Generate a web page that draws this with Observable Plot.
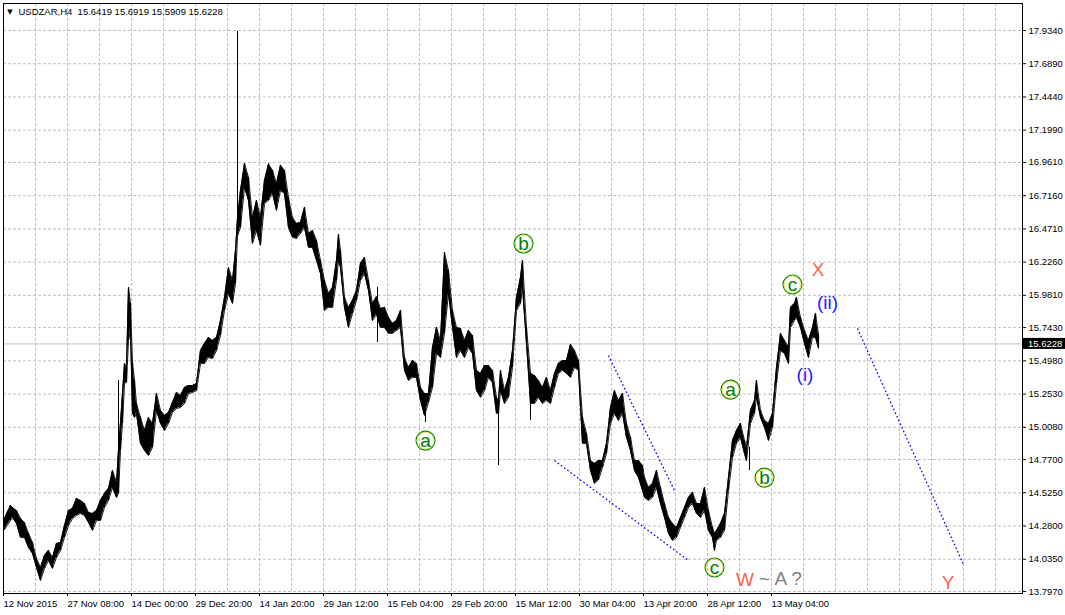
<!DOCTYPE html>
<html><head><meta charset="utf-8">
<script src="https://cdn.jsdelivr.net/npm/d3@7"></script>
<script src="https://cdn.jsdelivr.net/npm/@observablehq/plot@0.6"></script>
<style>html,body{margin:0;padding:0;background:#fff;overflow:hidden}</style>
</head><body><div id="chart"></div>
<script>
// ---- data (H4 bars sampled: bar number from 12 Nov 2015, high, low) ----
const barIndex = [
  1,7,9,13,17,21,25,29,33,37,
  41,45,49,53,57,61,65,69,73,77,
  81,85,89,93,97,101,105,109,113,115,
  117,119,121,123,125,127,129,131,133,137,
  141,145,149,153,157,161,165,169,173,177,
  181,185,189,193,197,201,205,209,213,217,
  221,225,229,232,234,237,241,245,249,253,
  257,261,265,269,273,277,281,285,289,293,
  297,301,305,309,313,317,321,325,329,333,
  335,337,341,345,349,353,357,361,365,369,
  373,377,381,385,389,393,397,401,405,409,
  413,417,421,425,429,433,437,441,445,449,
  453,457,461,465,469,473,477,481,485,489,
  493,495,497,501,505,509,513,517,519,523,
  527,531,535,539,543,547,551,555,559,563,
  567,571,575,579,583,587,591,595,599,603,
  607,611,615,619,623,627,631,635,639,641,
  645,649,653,657,661,665,669,673,677,681,
  685,689,693,697,701,705,709,711,713,717,
  721,725,729,733,737,741,743,747,751,753,
  757,761,765,769,773,777,781,785,787,791,
  793,797,801,805,809,812,815
];
const barHigh = [
  14.335,14.431,14.416,14.394,14.335,14.305,14.225,14.158,14.040,13.974,
  14.062,14.099,14.047,14.151,14.158,14.283,14.394,14.409,14.483,14.468,
  14.446,14.379,14.372,14.394,14.468,14.520,14.556,14.689,14.601,14.837,
  15.043,15.257,15.478,15.449,16.039,15.921,15.485,15.353,15.183,15.080,
  14.984,15.080,15.036,15.257,15.132,15.095,15.117,15.191,15.264,15.242,
  15.301,15.316,15.316,15.331,15.574,15.626,15.670,15.648,15.670,15.795,
  15.965,16.186,16.090,16.312,16.550,16.754,16.953,16.850,16.555,16.680,
  16.555,16.828,16.950,16.902,16.806,16.940,16.902,16.702,16.555,16.511,
  16.518,16.629,16.437,16.459,16.385,16.238,16.090,15.995,16.039,16.238,
  16.430,16.312,15.965,15.892,15.943,16.017,16.216,16.260,16.090,15.921,
  15.970,15.884,15.892,15.818,15.774,15.795,15.869,15.522,15.449,15.500,
  15.478,15.301,15.257,15.257,15.596,15.744,15.648,16.297,16.164,15.869,
  15.744,15.736,15.648,15.722,15.685,15.427,15.405,15.463,15.463,15.427,
  15.228,15.205,15.427,15.279,15.375,15.574,15.965,16.113,16.238,15.744,
  15.405,15.390,15.353,15.301,15.375,15.279,15.405,15.478,15.500,15.500,
  15.620,15.574,15.500,15.080,14.962,14.763,14.741,14.763,14.763,14.888,
  15.154,15.279,15.205,15.257,15.036,14.932,14.763,14.763,14.726,14.637,
  14.564,14.593,14.689,14.564,14.446,14.342,14.298,14.269,14.342,14.416,
  14.490,14.527,14.446,14.446,14.564,14.394,14.269,14.225,14.247,14.298,
  14.372,14.637,14.910,14.984,15.036,14.910,14.859,15.132,15.205,15.353,
  15.132,15.058,15.036,15.110,15.449,15.700,15.648,15.600,15.892,15.921,
  15.965,15.818,15.722,15.648,15.744,15.847,15.692
];
const barLow = [
  14.254,14.320,14.342,14.298,14.195,14.195,14.121,14.077,13.974,13.878,
  13.967,14.025,13.967,14.047,14.099,14.195,14.283,14.335,14.357,14.372,
  14.357,14.305,14.247,14.320,14.320,14.416,14.468,14.564,14.490,14.520,
  14.837,15.036,15.331,15.338,15.648,15.722,15.110,15.080,15.110,14.888,
  14.837,14.800,14.859,15.132,15.036,14.984,15.036,15.117,15.146,15.154,
  15.183,15.257,15.264,15.279,15.478,15.478,15.522,15.515,15.574,15.685,
  15.869,15.995,15.921,16.068,16.420,16.481,16.777,16.680,16.363,16.459,
  16.350,16.658,16.680,16.732,16.607,16.754,16.732,16.481,16.408,16.400,
  16.437,16.481,16.334,16.334,16.238,16.142,15.869,15.892,15.892,16.090,
  16.238,16.186,15.892,15.744,15.847,15.943,16.090,16.142,16.017,15.795,
  15.840,15.744,15.744,15.700,15.700,15.722,15.744,15.427,15.353,15.375,
  15.375,15.205,15.095,15.191,15.301,15.552,15.522,15.700,15.995,15.744,
  15.522,15.574,15.522,15.596,15.552,15.279,15.228,15.279,15.375,15.338,
  15.110,15.110,15.279,15.183,15.228,15.449,15.869,15.921,16.039,15.626,
  15.183,15.183,15.228,15.183,15.205,15.183,15.301,15.405,15.427,15.405,
  15.375,15.449,15.427,14.888,14.888,14.689,14.593,14.620,14.711,14.814,
  15.036,15.110,15.058,15.110,14.932,14.837,14.689,14.637,14.542,14.490,
  14.468,14.490,14.564,14.446,14.342,14.225,14.173,14.195,14.269,14.342,
  14.416,14.446,14.372,14.342,14.394,14.247,14.195,14.099,14.173,14.195,
  14.247,14.542,14.785,14.888,14.932,14.814,14.760,15.036,15.110,15.228,
  15.080,15.006,14.910,15.006,15.331,15.574,15.552,15.478,15.744,15.795,
  15.818,15.744,15.626,15.522,15.670,15.670,15.591
];
// long single-bar wicks
const wickIndex = [115, 234, 374, 422, 495, 527, 746];
const wickHigh  = [15.353, 17.927, 16.040, 15.200, 15.205, 15.405, 14.860];
const wickLow   = [14.520, 16.420, 15.633, 15.043, 14.726, 15.058, 14.689];

const lastClose = 15.6228;
const titleText = "USDZAR,H4\u00a0\u00a015.6419 15.6919 15.5909 15.6228";

// axes
const yTickValues = [17.934,17.689,17.444,17.199,16.961,16.716,16.471,16.226,15.981,15.743,15.498,15.253,15.008,14.770,14.525,14.280,14.035,13.797];
const xTickIndex  = [0,64,128,192,256,320,384,448,512,576,640,704,768];
const xTickLabels = ["12 Nov 2015","27 Nov 08:00","14 Dec 00:00","29 Dec 20:00","14 Jan 20:00","29 Jan 12:00","15 Feb 04:00","29 Feb 20:00","15 Mar 12:00","30 Mar 04:00","13 Apr 20:00","28 Apr 12:00","13 May 04:00"];

// blue dotted trend lines
const trendStartIdx   = [605, 551, 854];
const trendStartPrice = [15.537, 14.763, 15.736];
const trendEndIdx     = [671, 685, 960];
const trendEndPrice   = [14.542, 14.025, 13.996];

// circled wave labels
const circleIdx    = [422, 520, 711, 727, 761, 789];
const circlePrice  = [14.910, 16.363, 13.974, 15.286, 14.637, 16.061];
const circleLetter = ["a", "b", "c", "a", "b", "c"];

// other wave labels
const labelText  = ["X", "(ii)", "(i)", "W", "~ A ?", "Y"];
const labelIdx   = [814.5, 824, 801.5, 741.5, 777, 944.5];
const labelPrice = [16.170, 15.928, 15.397, 13.885, 13.893, 13.863];
const labelColor = ["#ff6347", "#1f1fff", "#1f1fff", "#ff6347", "#808080", "#ff6347"];

// ---- build tables ----
const bars = barIndex.map((i, k) => ({i, hi: barHigh[k], lo: barLow[k]}));
const wicks = wickIndex.map((i, k) => ({i, hi: wickHigh[k], lo: wickLow[k]}));
const trends = trendStartIdx.map((x, k) => ({x1: x, y1: trendStartPrice[k], x2: trendEndIdx[k], y2: trendEndPrice[k]}));
const circles = circleIdx.map((x, k) => ({x, y: circlePrice[k], t: circleLetter[k]}));
const labels = labelText.map((t, k) => ({t, x: labelIdx[k], y: labelPrice[k], c: labelColor[k]}));
const gridIdx = d3.range(32, 1000, 32);

const FONT = "'Liberation Sans', Arial, sans-serif";

const chart = Plot.plot({
  width: 1065, height: 615,
  marginLeft: 3, marginRight: 43, marginTop: 3, marginBottom: 22,
  style: {background: "white", fontFamily: FONT, fontSize: "9.5px", color: "black", overflow: "visible"},
  x: {domain: [0, 1019], axis: null},
  y: {domain: [13.7823, 18.1331], axis: null},
  marks: [
    Plot.ruleX(gridIdx, {stroke: "#c0c0c0", strokeDasharray: "3,2"}),
    Plot.ruleY(yTickValues, {stroke: "#c0c0c0", strokeDasharray: "3,2"}),
    Plot.ruleY([lastClose], {stroke: "#c0c0c0"}),
    Plot.areaY(bars, {x: "i", y1: "lo", y2: "hi", fill: "black"}),
    Plot.line(bars, {x: "i", y: "hi", stroke: "black", strokeWidth: 0.9}),
    Plot.line(bars, {x: "i", y: "lo", stroke: "black", strokeWidth: 0.9}),
    Plot.ruleX(bars, {x: "i", y1: "lo", y2: "hi", stroke: "black", strokeWidth: 1.2}),
    Plot.ruleX(wicks, {x: "i", y1: "lo", y2: "hi", stroke: "black", strokeWidth: 1}),
    Plot.link(trends, {x1: "x1", y1: "y1", x2: "x2", y2: "y2", stroke: "#0000ff", strokeWidth: 1.3, strokeDasharray: "1.6,2.4"}),
    Plot.dot(circles, {x: "x", y: "y", r: 9.5, stroke: "#008000", strokeWidth: 1.1, fill: "none"}),
    Plot.dot(circles, {x: "x", y: "y", r: 8.5, stroke: "#d8d800", strokeWidth: 0.7, fill: "none"}),
    Plot.text(circles, {x: "x", y: "y", text: "t", fill: "#008000", fontSize: 19, fontFamily: FONT}),
    Plot.text(labels, {x: "x", y: "y", text: "t", fill: "c", fontSize: 19, fontFamily: FONT}),
    Plot.axisY(yTickValues, {anchor: "right", tickSize: 3, tickPadding: 3, tickFormat: d => d.toFixed(4), label: null, fill: "black", stroke: "black"}),
    Plot.axisX(xTickIndex, {anchor: "bottom", tickSize: 3, tickPadding: 4, tickFormat: d => xTickLabels[xTickIndex.indexOf(d)], textAnchor: "start", label: null}),
    Plot.frame({stroke: "black"}),
    Plot.text(["\u25BC"], {frameAnchor: "top-left", dx: 6.5, dy: 8, textAnchor: "middle", lineAnchor: "middle", fontSize: 7, fontFamily: "DejaVu Sans", fill: "black"}),
    Plot.text([titleText], {frameAnchor: "top-left", dx: 15, dy: 8, textAnchor: "start", lineAnchor: "middle", fill: "black"})
  ]
});

// current price label on the right axis
const sx = chart.scale("x"), sy = chart.scale("y");
const py = sy.apply(lastClose), px = sx.apply(1019);
const g = d3.select(chart).append("g").attr("text-anchor", "start");
g.append("rect").attr("x", px + 1).attr("y", py - 5.5).attr("width", 42).attr("height", 11).attr("fill", "black");
g.append("text").attr("x", px + 6).attr("y", py).attr("dy", "0.35em").attr("fill", "white")
  .attr("text-anchor", "start").attr("font-size", "9.5px").attr("font-family", FONT).text(lastClose.toFixed(4));

document.getElementById("chart").appendChild(chart);
</script>
</body></html>
